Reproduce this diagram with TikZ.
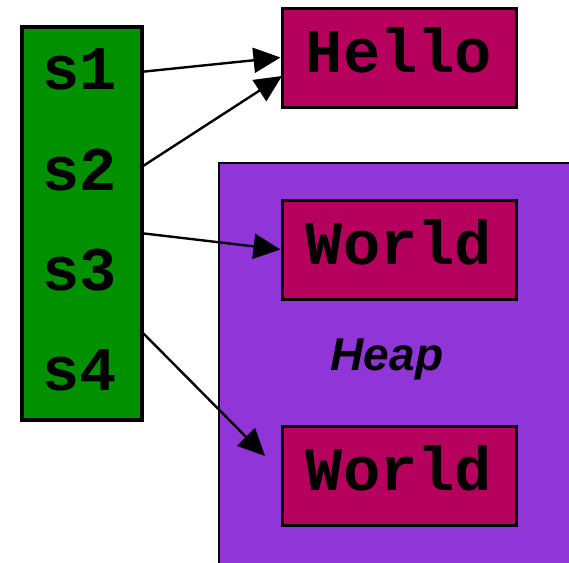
\documentclass[tikz,border=0pt]{standalone}
\usepackage{fontspec}
\setmainfont{Liberation Sans}
\setmonofont{Liberation Mono}
\usetikzlibrary{arrows.meta}
\definecolor{stackgreen}{HTML}{009000}
\definecolor{strred}{HTML}{B5005E}
\definecolor{heappurple}{HTML}{9035D8}

\tikzset{
  stackbox/.style={draw, line width=4pt, fill=stackgreen, inner sep=0pt,
    minimum width=120pt, minimum height=393pt, anchor=north west},
  heapbox/.style={draw, line width=2pt, fill=heappurple, inner sep=0pt,
    minimum width=370pt, minimum height=420pt, anchor=north west},
  strbox/.style={draw, line width=3pt, fill=strred, inner sep=0pt,
    minimum width=234pt, minimum height=99pt, text height=29pt, text depth=0pt,
    font=\fontsize{62}{62}\selectfont\ttfamily\bfseries},
  var/.style={inner sep=0pt, anchor=base, font=\fontsize{62}{62}\selectfont\ttfamily\bfseries},
  ptr/.style={-{Triangle[length=27pt,width=25pt]}, line width=2.4pt}
}

\begin{document}
\begin{tikzpicture}[x=1pt,y=-1pt]
			\useasboundingbox (0,0) rectangle (569,562);
			% heap and stack
			\node (heap) [heapbox] at (218,162) {};
			\node (stack) [stackbox] at (20,25) {};
			\node (s1) [var] at (80,89) {s1};
			\node (s2) [var] at (80,190) {s2};
			\node (s3) [var] at (80,290) {s3};
			\node (s4) [var] at (80,390) {s4};
			% strings
			\node (hello) [strbox] at (399,57.5) {Hello};
			\node (world1) [strbox] at (399,249.5) {World};
			\node (world2) [strbox] at (399,475.5) {World};
			\node (heaplabel) [anchor=base, inner sep=0pt,
				font=\fontsize{46}{46}\selectfont\bfseries\itshape] at (387,370) {Heap};
			% pointer ends
			\coordinate (p1) at (140,72);
			\coordinate (p2) at (140,168);
			\coordinate (p3) at (140,233);
			\coordinate (p4) at (140,330);
			\coordinate (h2) at (282,76);
			\coordinate (w4) at (265,456);
			\path[ptr]
			(p1) edge (hello.west)
			(p2) edge (h2)
			(p3) edge (world1.west)
			(p4) edge (w4);
		\end{tikzpicture}
\end{document}
